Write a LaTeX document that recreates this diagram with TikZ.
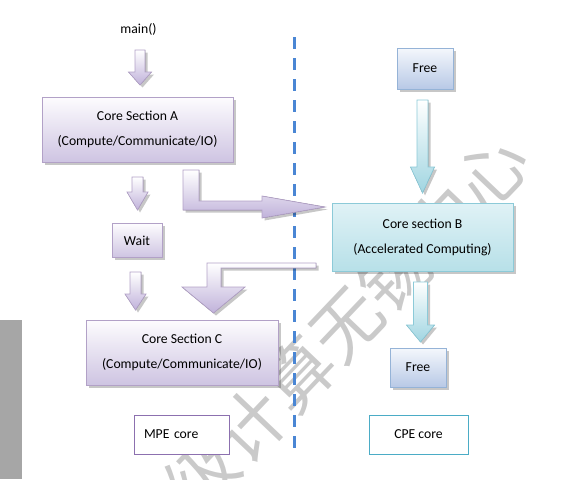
\documentclass[tikz,border=0pt]{standalone}
\usepackage{fontspec}
\setmainfont{Carlito}
\newfontfamily\cjkwm{Noto Sans CJK SC}
\usetikzlibrary{shadows}
\definecolor{wmgray}{RGB}{202,202,202}
\definecolor{barcol}{RGB}{166,166,166}
\definecolor{ptop}{RGB}{253,252,254}
\definecolor{pbot}{RGB}{206,196,226}
\definecolor{pborder}{RGB}{178,161,199}
\definecolor{mpeborder}{RGB}{140,112,175}
\definecolor{ctop}{RGB}{224,242,246}
\definecolor{cbot}{RGB}{183,224,232}
\definecolor{cborder}{RGB}{140,202,216}
\definecolor{cpeborder}{RGB}{75,172,198}
\definecolor{ftop}{RGB}{244,247,252}
\definecolor{fbot}{RGB}{184,201,230}
\definecolor{fborder}{RGB}{149,179,215}
\definecolor{atop}{RGB}{255,255,255}
\definecolor{apbot}{RGB}{192,178,218}
\definecolor{acbot}{RGB}{160,213,225}
\definecolor{dashblue}{RGB}{74,134,212}
\newcommand\blkdn[7]{%
  \filldraw[#1] (#2-#6,#3) -- (#2+#6,#3) -- (#2+#6,#4) -- (#2+#7,#4) -- (#2,#5) -- (#2-#7,#4) -- (#2-#6,#4) -- cycle;}
\begin{document}
\begin{tikzpicture}[x=1pt,y=-1pt,
  font=\fontsize{13.7}{16}\selectfont,
  shad/.style={drop shadow={shadow xshift=2.5pt,shadow yshift=-2.5pt,fill=black,opacity=0.22}},
  pbox/.style={draw=pborder,line width=0.9pt,top color=ptop,bottom color=pbot,shad,inner sep=0pt,align=center},
  cbox/.style={draw=cborder,line width=0.9pt,top color=ctop,bottom color=cbot,shad,inner sep=0pt,align=center},
  fbox/.style={draw=fborder,line width=0.9pt,top color=ftop,bottom color=fbot,shad,inner sep=0pt,align=center},
  parrow/.style={draw=pborder,line width=0.7pt,top color=atop,bottom color=apbot,shad},
  carrow/.style={draw=cborder,line width=0.7pt,top color=atop,bottom color=acbot,shad},
  labbox/.style={draw=#1,line width=1pt,fill=white,inner sep=0pt,minimum height=39pt}
]
\useasboundingbox (0,0) rectangle (567,479);
\clip (0,0) rectangle (567,479);
% watermark
\node[font=\cjkwm\fontsize{70}{70}\selectfont,text=wmgray,rotate=46.4,inner sep=0pt] (wm) at (274,400) {国家超级计算无锡中心};
% grey bar
\fill[barcol] (0,320) rectangle (22,479);
% divider
\draw[dashblue,line width=3pt,dash pattern=on 12pt off 9pt] (294.5,37) -- (294.5,449);
% nodes
\node (main) at (138.5,29) {main()};
\node[pbox,minimum width=191pt,minimum height=65pt] (A) at (137.5,129.5) {Core Section A\\[9pt](Compute/Communicate/IO)};
\node[pbox,minimum width=50pt,minimum height=34pt] (W) at (137,240.5) {Wait};
\node[pbox,minimum width=192pt,minimum height=65pt] (C) at (182,352.5) {Core Section C\\[9pt](Compute/Communicate/IO)};
\node[labbox=mpeborder,minimum width=95pt,text width=75pt,inner xsep=10pt,align=left] (mpe) at (181.5,434.5) {MPE core};
\node[fbox,minimum width=56pt,minimum height=41pt] (F1) at (425,68.5) {Free};
\node[cbox,minimum width=181pt,minimum height=68pt] (B) at (422.5,237) {Core section B\\[9pt](Accelerated Computing)};
\node[fbox,minimum width=56pt,minimum height=39pt] (F2) at (418,367.5) {Free};
\node[labbox=cpeborder,minimum width=99pt,align=center] (cpe) at (418.5,434.5) {CPE core};
% straight block arrows
\blkdn{parrow}{140}{50}{72}{85}{5}{11.5}
\blkdn{parrow}{137.5}{177}{192}{210}{5.5}{10.5}
\blkdn{parrow}{135.5}{272}{294}{310}{5.5}{10.5}
\blkdn{carrow}{422.5}{100}{167}{193}{5.5}{12}
\blkdn{carrow}{420.5}{282}{325}{342}{7}{14}
% bent arrow A -> B
\filldraw[parrow] (183,170) -- (199,170) -- (199,201) -- (262,201) -- (262,196) -- (325,207) -- (262,218) -- (262,210) -- (183,210) -- cycle;
% bent arrow B -> C
\filldraw[parrow] (316,263) -- (316,268) -- (221,268) -- (221,287) -- (245,287) -- (213.5,313) -- (182,287) -- (207,287) -- (207,263) -- cycle;
\end{tikzpicture}
\end{document}
